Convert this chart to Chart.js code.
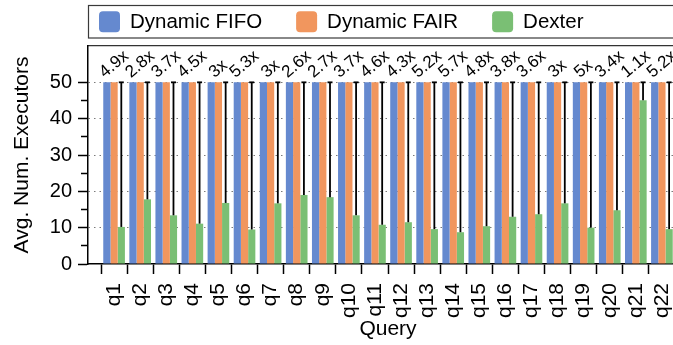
<!DOCTYPE html>
<html>
<head>
<meta charset="utf-8">
<style>
  html, body { margin: 0; padding: 0; background: #fff; width: 673px; height: 345px; overflow: hidden; }
  #wrap { width: 690px; height: 345px; }
  canvas { display: block; }
</style>
<script src="https://cdn.jsdelivr.net/npm/chart.js@4/dist/chart.umd.min.js"></script>
</head>
<body>
<div id="wrap"><canvas id="chart" width="690" height="345" style="width:690px;height:345px"></canvas></div>
<script>
// TPC-H queries and the average number of executors held by each scheduler
const queries = ['q1', 'q2', 'q3', 'q4', 'q5', 'q6', 'q7', 'q8', 'q9', 'q10', 'q11',
                 'q12', 'q13', 'q14', 'q15', 'q16', 'q17', 'q18', 'q19', 'q20', 'q21', 'q22'];
const fifoExecutors = [50, 50, 50, 50, 50, 50, 50, 50, 50, 50, 50,
                       50, 50, 50, 50, 50, 50, 50, 50, 50, 50, 50];
const fairExecutors = [50, 50, 50, 50, 50, 50, 50, 50, 50, 50, 50,
                       50, 50, 50, 50, 50, 50, 50, 50, 50, 50, 50];
const dexterExecutors = [10.2, 17.8, 13.4, 11.1, 16.8, 9.5, 16.7, 19.0, 18.4, 13.4, 10.8,
                         11.5, 9.6, 8.75, 10.4, 13.0, 13.7, 16.7, 10.0, 14.8, 45.1, 9.6];
const yTickValues = [0, 10, 20, 30, 40, 50];

const FONT = '"Liberation Sans", Arial, Helvetica, sans-serif';
const COLORS = { fifo: '#6589CF', fair: '#F1965E', dexter: '#7ABF74' };

// half-category margin on both sides of the query groups
const xLabels = ['', ...queries, ''];
const padded = arr => [null, ...arr, null];

// reduction factor printed above each group, e.g. "4.9x"
function speedupText(i) {
  let s = (fifoExecutors[i] / dexterExecutors[i]).toFixed(1);
  if (s.endsWith('.0')) s = s.slice(0, -2);
  return s + 'x';
}

// vertical gap markers from the Dexter bar up to the baseline, plus the factor labels
const speedupMarks = {
  id: 'speedupMarks',
  afterDatasetsDraw(chart) {
    const ctx = chart.ctx;
    const xs = chart.scales.x, ys = chart.scales.y;
    const meta = chart.getDatasetMeta(2);
    const ang = 40 * Math.PI / 180;
    const size = 17;
    ctx.save();
    queries.forEach((q, i) => {
      const bar = meta.data[i + 1];
      const topY = ys.getPixelForValue(fifoExecutors[i]);
      ctx.strokeStyle = '#000';
      ctx.lineWidth = 1.8;
      ctx.beginPath();
      ctx.moveTo(bar.x, bar.y);
      ctx.lineTo(bar.x, topY);
      ctx.stroke();
      ctx.beginPath();
      ctx.moveTo(bar.x - 2.5, topY);
      ctx.lineTo(bar.x + 2.5, topY);
      ctx.stroke();

      const txt = speedupText(i);
      ctx.font = size + 'px ' + FONT;
      const w = ctx.measureText(txt).width;
      const h = size * 0.72;
      const ext = w * Math.sin(ang) + h * Math.cos(ang);
      const cx = xs.getPixelForValue(i + 1);
      const cy = topY - 3 - ext / 2;
      ctx.save();
      ctx.translate(cx, cy);
      ctx.rotate(-ang);
      ctx.fillStyle = '#000';
      ctx.textAlign = 'center';
      ctx.textBaseline = 'middle';
      ctx.fillText(txt, 0, 0);
      ctx.restore();
    });
    ctx.restore();
  }
};

// framed legend row across the top of the figure
const legendBox = { left: 88.5, top: 5.5, height: 32.5, firstX: 99, marker: 21, gap: 10, spacing: 34, fontSize: 20.5 };
const framedLegend = {
  id: 'framedLegend',
  afterDraw(chart) {
    const ctx = chart.ctx;
    const L = legendBox;
    ctx.save();
    ctx.lineWidth = 1.2;
    ctx.strokeStyle = '#3a3a3a';
    ctx.strokeRect(L.left, L.top, chart.width + 100, L.height);
    ctx.font = L.fontSize + 'px ' + FONT;
    ctx.textBaseline = 'middle';
    ctx.textAlign = 'left';
    const midY = L.top + L.height / 2;
    let x = L.firstX;
    chart.data.datasets.forEach(ds => {
      ctx.fillStyle = ds.backgroundColor;
      ctx.beginPath();
      ctx.roundRect(x, midY - L.marker / 2, L.marker, L.marker, 4);
      ctx.fill();
      ctx.fillStyle = '#000';
      ctx.fillText(ds.label, x + L.marker + L.gap, midY + 1);
      x += L.marker + L.gap + ctx.measureText(ds.label).width + L.spacing;
    });
    ctx.restore();
  }
};

new Chart(document.getElementById('chart'), {
  type: 'bar',
  data: {
    labels: xLabels,
    datasets: [
      { label: 'Dynamic FIFO', data: padded(fifoExecutors), backgroundColor: COLORS.fifo, xAxisID: 'x', yAxisID: 'y' },
      { label: 'Dynamic FAIR', data: padded(fairExecutors), backgroundColor: COLORS.fair, xAxisID: 'x', yAxisID: 'y' },
      { label: 'Dexter', data: padded(dexterExecutors), backgroundColor: COLORS.dexter, xAxisID: 'x', yAxisID: 'y' }
    ]
  },
  options: {
    responsive: false,
    animation: false,
    devicePixelRatio: 1,
    categoryPercentage: 0.83,
    barPercentage: 1.0,
    layout: { padding: { top: 46, left: 0, right: 2, bottom: 0 } },
    plugins: { legend: { display: false }, tooltip: { enabled: false } },
    scales: {
      x: {
        type: 'category',
        position: 'bottom',
        offset: false,
        afterFit(scale) {
          scale.height = 81;
          scale.paddingLeft = 0;
          scale.paddingRight = 0;
        },
        grid: { offset: true, drawOnChartArea: false, drawTicks: true, tickLength: 10, tickWidth: 1.5, tickColor: '#000', color: '#000' },
        border: { display: true, color: '#000', width: 1.5 },
        ticks: { autoSkip: false, minRotation: 90, maxRotation: 90, padding: 9, color: '#000', font: { family: FONT, size: 21 } },
        title: { display: true, text: 'Query', color: '#000', font: { family: FONT, size: 21 }, padding: { top: 0, bottom: 3 } }
      },
      xTop: {
        type: 'linear',
        position: 'top',
        min: 0, max: 1,
        afterFit(scale) { scale.paddingLeft = 0; scale.paddingRight = 0; },
        grid: { display: true, drawOnChartArea: false, drawTicks: false },
        ticks: { display: false },
        border: { display: true, color: '#333', width: 1.2 }
      },
      y: {
        type: 'linear',
        position: 'left',
        min: 0, max: 60,
        afterFit(scale) { scale.width = 88; },
        ticks: {
          stepSize: 5,
          autoSkip: false,
          padding: 6,
          color: '#000',
          font: { family: FONT, size: 20 },
          callback: v => (yTickValues.includes(v) ? String(v) : '')
        },
        grid: {
          drawOnChartArea: true,
          tickLength: 10,
          lineWidth: 1,
          tickWidth: 1.5,
          color: ctx => (ctx.tick && ctx.tick.value > 0 && ctx.tick.value <= 50 && ctx.tick.value % 10 === 0) ? '#7a7a7a' : 'rgba(0,0,0,0)',
          tickColor: ctx => (ctx.tick && ctx.tick.value <= 50) ? '#000' : 'rgba(0,0,0,0)',
          // minor (half-step) ticks are shorter: skip their outer 3px
          tickBorderDash: ctx => (ctx.tick && ctx.tick.value % 10 !== 0) ? [0, 3, 8, 100] : []
        },
        border: { display: true, color: '#000', width: 1.5, dash: [1.5, 4] },
        title: { display: true, text: 'Avg. Num. Executors', color: '#000', font: { family: FONT, size: 21 }, padding: { top: 10, bottom: 0 } }
      }
    }
  },
  plugins: [speedupMarks, framedLegend]
});
</script>
</body>
</html>
